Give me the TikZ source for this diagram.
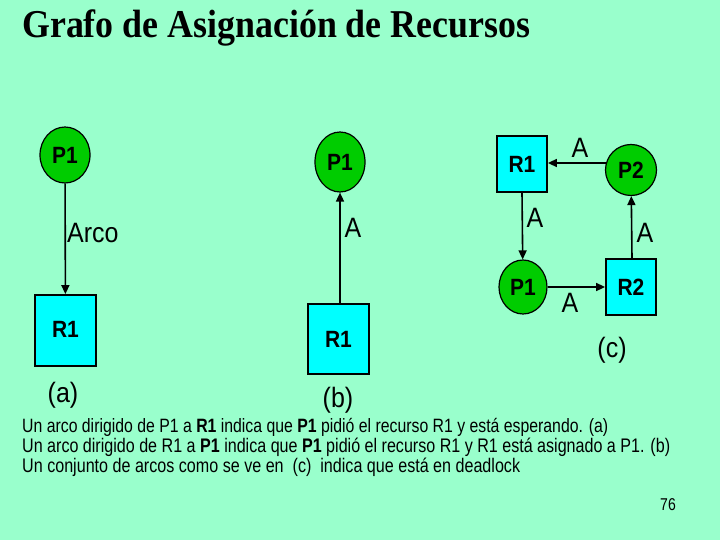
\documentclass[tikz,border=0pt]{standalone}
\usepackage{fontspec}
\setmainfont{Liberation Sans}
\newfontfamily\titlefont{Liberation Serif}
\usetikzlibrary{shapes.geometric,arrows.meta}
\definecolor{bgmint}{RGB}{153,255,204}
\definecolor{procgreen}{RGB}{0,204,0}
\definecolor{rescyan}{RGB}{0,255,255}
\newcommand{\vst}[1]{\scalebox{1}[1.12]{#1}}
\newcommand{\tst}[1]{\scalebox{1}[1.22]{#1}}
\tikzset{
  proc/.style={ellipse,draw=black,line width=1.2pt,fill=procgreen,inner sep=0pt,
    font=\fontsize{21}{21}\selectfont\bfseries},
  res/.style={rectangle,draw=black,line width=1.8pt,fill=rescyan,inner sep=0pt,
    font=\fontsize{21}{21}\selectfont\bfseries},
  arc/.style={line width=1.6pt,-{Triangle[length=9pt,width=8pt]}},
  lbl/.style={font=\fontsize{25}{25}\selectfont,inner sep=0pt},
  body/.style={anchor=base west,inner sep=0pt,font=\fontsize{16}{16}\selectfont}
}
\begin{document}
\begin{tikzpicture}[x=1pt,y=-1pt]
\fill[bgmint] (0,0) rectangle (720,540);
\useasboundingbox (0,0) rectangle (720,540);
% title
\node[anchor=base west,inner sep=0pt] (title) at (22,38)
  {\scalebox{1}[1.1]{\resizebox{508pt}{!}{\titlefont\bfseries Grafo de Asignación de Recursos}}};
% (a)
\node[proc,minimum width=50pt,minimum height=56pt] (aP1) at (65,155) {\vst{P1}};
\node[res,minimum width=61pt,minimum height=71pt] (aR1) at (65.5,330.5) {\raisebox{3pt}{\vst{R1}}};
\draw[arc] (aP1) -- (aR1);
\node[lbl,anchor=west] (arco) at (67,233) {\vst{Arco}};
\node[lbl] (la) at (63,395) {\vst{(a)}};
% (b)
\node[proc,minimum width=50pt,minimum height=60pt] (bP1) at (340,162) {\vst{P1}};
\node[res,minimum width=61pt,minimum height=70pt] (bR1) at (338.5,339) {\vst{R1}};
\draw[arc] (bR1.north -| bP1) -- (bP1);
\node[lbl] (bA) at (353,228) {\vst{A}};
\node[lbl] (lb) at (338,400) {\vst{(b)}};
% (c)
\node[res,minimum width=50pt,minimum height=56pt] (cR1) at (522,164) {\vst{R1}};
\node[proc,minimum width=51pt,minimum height=51pt] (cP2) at (631,170) {\vst{P2}};
\node[proc,minimum width=48pt,minimum height=54pt] (cP1) at (523,287) {\vst{P1}};
\node[res,minimum width=50pt,minimum height=56pt] (cR2) at (631,287) {\vst{R2}};
\coordinate (c1) at (607,163);
\draw[arc] (c1) -- (c1 -| cR1.east);
\draw[arc] (cR1.south -| 522,0) -- (cP1);
\draw[arc] (cP1) -- (cR2);
\draw[arc] (cR2.north -| 632,0) -- (cP2);
\node[lbl] (cA1) at (580,148) {\vst{A}};
\node[lbl] (cA2) at (535,218) {\vst{A}};
\node[lbl] (cA3) at (570,303) {\vst{A}};
\node[lbl] (cA4) at (645,233) {\vst{A}};
\node[lbl] (lc) at (612,350) {\vst{(c)}};
% text lines
\node[body] (t1) at (22,432) {\tst{\resizebox{586pt}{!}{Un arco dirigido de P1 a \textbf{R1} indica que \textbf{P1} pidió el recurso R1 y está esperando. (a)}}};
\node[body] (t2) at (22,452) {\tst{\resizebox{648pt}{!}{Un arco dirigido de R1 a \textbf{P1} indica que \textbf{P1} pidió el recurso R1 y R1 está asignado a P1. (b)}}};
\node[body] (t3) at (22,472) {\tst{\resizebox{498pt}{!}{Un conjunto de arcos como se ve en\ \ (c)\ \ indica que está en deadlock}}};
\node[anchor=base,inner sep=0pt,font=\fontsize{14}{14}\selectfont] (pg) at (668,510) {\tst{76}};
\end{tikzpicture}
\end{document}
